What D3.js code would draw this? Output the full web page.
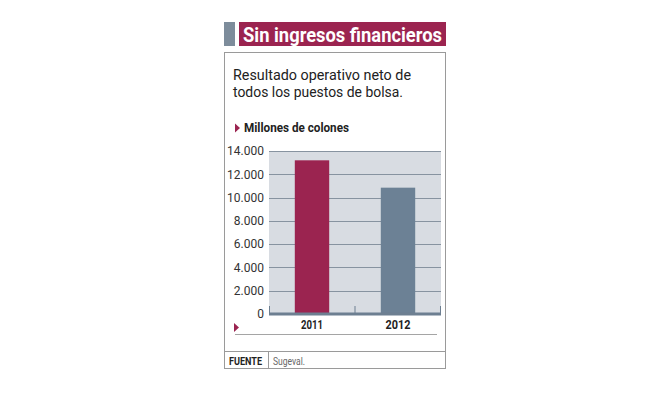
<!DOCTYPE html>
<html>
<head>
    <style>
        body { margin: 0; background: #fff; }
        svg { display: block; }
    </style>
    <script src="https://d3js.org/d3.v7.min.js"></script>
</head>
<body>
    <div id="chart"></div>

    <script>
        var years = ["2011", "2012"];
        var values = [13200, 10850];
        var ticks = [0, 2000, 4000, 6000, 8000, 10000, 12000, 14000];
        var colors = ["#9b2450", "#6c8195"];

        var width = 653, height = 398;
        var crimson = "#9b2450";
        var FONT = "Roboto, 'Liberation Sans', sans-serif";

        var svg = d3.select("#chart")
                    .append("svg")
                    .attr("width", width)
                    .attr("height", height)
                    .attr("font-family", FONT);

        // squeeze a text to a given width (the original uses a condensed face)
        function fit(sel, w) {
            return sel.attr("textLength", w).attr("lengthAdjust", "spacingAndGlyphs");
        }

        // title bar
        svg.append("rect").attr("x", 224).attr("y", 22).attr("width", 11).attr("height", 24).attr("fill", "#7d8c9b");
        svg.append("rect").attr("x", 239).attr("y", 22).attr("width", 207).attr("height", 24).attr("fill", crimson);
        fit(svg.append("text")
            .attr("x", 243).attr("y", 42)
            .attr("font-size", 21).attr("font-weight", "bold")
            .attr("fill", "#fff")
            .text("Sin ingresos financieros"), 199);

        // frame
        svg.append("rect").attr("x", 224.5).attr("y", 52.5).attr("width", 221).attr("height", 316)
            .attr("fill", "none").attr("stroke", "#9a9a9a").attr("stroke-width", 1);
        svg.append("line").attr("x1", 224).attr("x2", 446).attr("y1", 351.5).attr("y2", 351.5)
            .attr("stroke", "#9a9a9a");
        svg.append("line").attr("x1", 268.5).attr("x2", 268.5).attr("y1", 352).attr("y2", 368)
            .attr("stroke", "#9a9a9a");

        // subtitle
        fit(svg.append("text").attr("x", 233).attr("y", 80)
            .attr("font-size", 15.5).attr("fill", "#222")
            .text("Resultado operativo neto de"), 178);
        fit(svg.append("text").attr("x", 233).attr("y", 97)
            .attr("font-size", 15.5).attr("fill", "#222")
            .text("todos los puestos de bolsa."), 170);

        // unit label
        svg.append("path").attr("d", "M235,123.5 L240,128 L235,132.5 Z").attr("fill", crimson);
        fit(svg.append("text")
            .attr("x", 244).attr("y", 132)
            .attr("font-size", 12.5).attr("font-weight", "bold").attr("fill", "#222")
            .text("Millones de colones"), 105);

        // plot
        var pLeft = 269, pRight = 441, pTop = 151, pBottom = 314;
        var y = d3.scaleLinear().domain([0, 14000]).range([pBottom, pTop]);
        var x = d3.scaleBand().domain(years).range([pLeft, pRight]).paddingInner(0.6).paddingOuter(0.3);

        svg.append("rect").attr("x", pLeft).attr("y", pTop).attr("width", pRight - pLeft).attr("height", pBottom - pTop + 1)
            .attr("fill", "#d8dce2");

        var fmt = function(d) { return d3.format(",")(d).replace(/,/g, "."); };

        var yAxis = svg.append("g")
            .attr("transform", "translate(" + pLeft + ",0)")
            .call(d3.axisLeft(y).tickValues(ticks).tickSize(0).tickPadding(5).tickFormat(fmt));
        yAxis.select(".domain").remove();
        yAxis.selectAll("text").attr("font-family", FONT).attr("font-size", 12).attr("fill", "#333");

        svg.append("g").selectAll("line")
            .data(ticks.filter(function(d) { return d > 0; }))
            .enter().append("line")
            .attr("x1", pLeft).attr("x2", pRight)
            .attr("y1", function(d) { return Math.round(y(d)) + 0.5; })
            .attr("y2", function(d) { return Math.round(y(d)) + 0.5; })
            .attr("stroke", "#8793a0").attr("stroke-width", 1);

        svg.selectAll(".bar")
            .data(values)
            .enter().append("rect")
            .attr("class", "bar")
            .attr("x", function(d, i) { return x(years[i]); })
            .attr("width", x.bandwidth())
            .attr("y", function(d) { return y(d); })
            .attr("height", function(d) { return pBottom - y(d); })
            .attr("fill", function(d, i) { return colors[i]; });

        // baseline and separator ticks
        svg.append("line").attr("x1", pLeft).attr("x2", pRight).attr("y1", pBottom).attr("y2", pBottom)
            .attr("stroke", "#6d7f91").attr("stroke-width", 3);
        [pLeft + 0.5, (pLeft + pRight) / 2, pRight - 0.5].forEach(function(t) {
            svg.append("line").attr("x1", t).attr("x2", t).attr("y1", pBottom - 8).attr("y2", pBottom)
                .attr("stroke", "#6d7f91").attr("stroke-width", 1);
        });

        // year labels
        var xAxis = svg.append("g")
            .attr("transform", "translate(0," + (pBottom + 2) + ")")
            .call(d3.axisBottom(x).tickSize(0).tickPadding(4));
        xAxis.select(".domain").remove();
        xAxis.selectAll("text").attr("font-family", FONT).attr("font-size", 13).attr("font-weight", "bold").attr("fill", "#222")
            .attr("textLength", function(d) { return d === "2011" ? 22 : 25; })
            .attr("lengthAdjust", "spacingAndGlyphs");

        svg.append("path").attr("d", "M234,323 L239,327.5 L234,332 Z").attr("fill", crimson);
        svg.append("line").attr("x1", 235).attr("x2", 437).attr("y1", 334.5).attr("y2", 334.5)
            .attr("stroke", "#a5a5a5").attr("stroke-width", 1.2);

        // source
        fit(svg.append("text")
            .attr("x", 229).attr("y", 365)
            .attr("font-size", 11.5).attr("font-weight", "bold").attr("fill", "#222")
            .text("FUENTE"), 33);
        fit(svg.append("text")
            .attr("x", 273).attr("y", 365)
            .attr("font-size", 11.5).attr("fill", "#666")
            .text("Sugeval."), 32);
    </script>
</body>
</html>
